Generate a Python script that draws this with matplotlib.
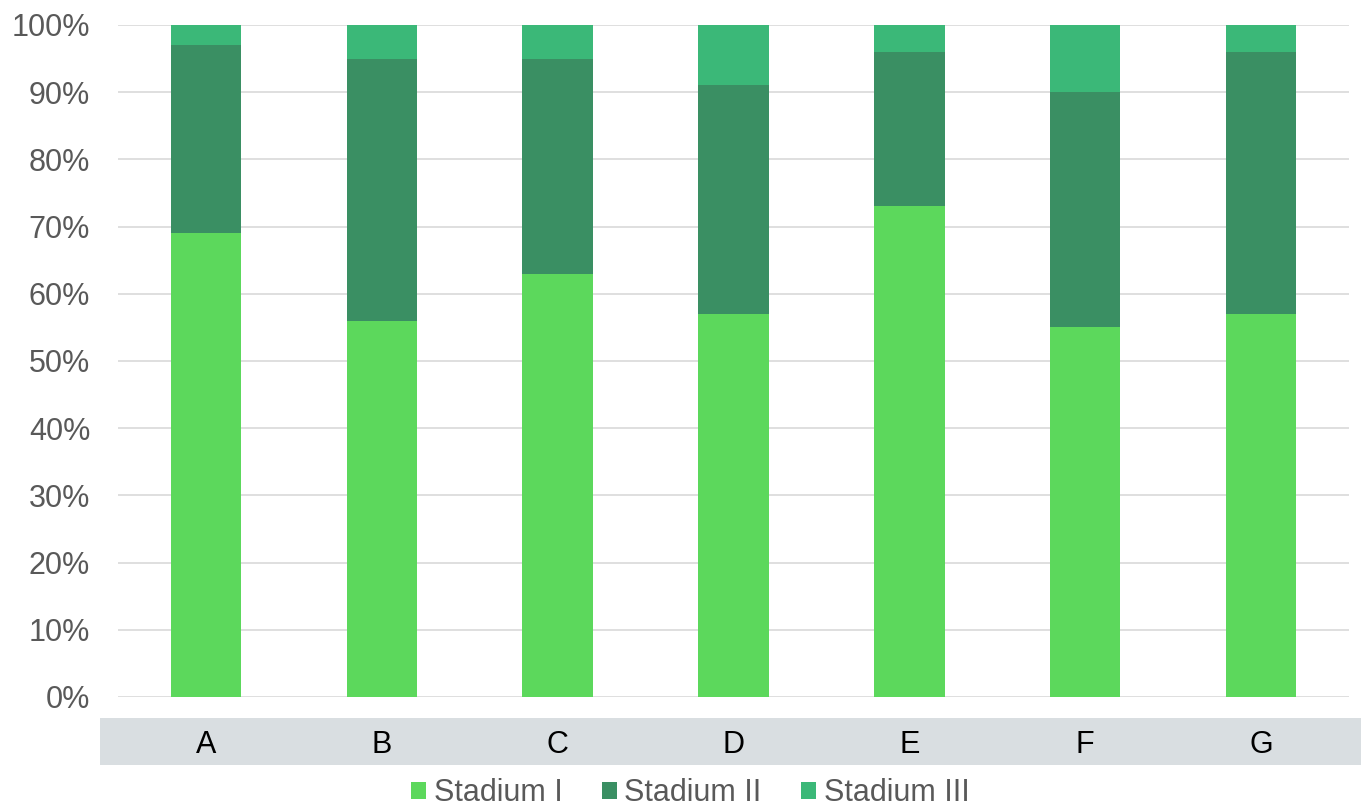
import numpy as np
import matplotlib.pyplot as plt
from matplotlib.patches import Rectangle
from matplotlib.ticker import FuncFormatter

plt.rcParams['font.family'] = ['Liberation Sans', 'DejaVu Sans']

categories = ['A', 'B', 'C', 'D', 'E', 'F', 'G']
stadium_1 = [69, 56, 63, 57, 73, 55, 57]
stadium_2 = [28, 39, 32, 34, 23, 35, 39]
stadium_3 = [3, 5, 5, 9, 4, 10, 4]
series_names = ['Stadium I', 'Stadium II', 'Stadium III']
colors = ['#5cd85c', '#3a8f63', '#3bb878']

fig = plt.figure(figsize=(13.61, 8.08), dpi=100)
ax = fig.add_axes([0.0867, 0.1374, 0.9045, 0.8317])

# grey strip behind the category labels
fig.patches.append(Rectangle((100 / 1361, 1 - 765 / 808), 1 - 100 / 1361, 47 / 808,
                             transform=fig.transFigure, facecolor='#d9dee1',
                             edgecolor='none', zorder=-5))

x = np.arange(len(categories))
bottom = np.zeros(len(categories))
for vals, name, c in zip([stadium_1, stadium_2, stadium_3], series_names, colors):
    ax.bar(x, vals, width=0.4, bottom=bottom, color=c, label=name, zorder=3)
    bottom += np.array(vals)

ax.set_xlim(-0.5, len(categories) - 0.5)
ax.set_ylim(0, 100)
ax.set_yticks(np.arange(0, 101, 10))
ax.yaxis.set_major_formatter(FuncFormatter(lambda v, p: f'{v:.0f}%'))
ax.grid(axis='y', color='#d9d9d9', linewidth=1.2, zorder=0)
ax.set_axisbelow(True)
ax.patch.set_alpha(0)
for s in ax.spines.values():
    s.set_visible(False)
ax.tick_params(axis='y', length=0, labelsize=22, labelcolor='#595959', pad=20)
ax.tick_params(axis='x', length=0, labelsize=22, labelcolor='black', pad=24)
ax.set_xticks(x)
ax.set_xticklabels(categories)

ax.legend(loc='center', bbox_to_anchor=(0.465, -0.143), ncol=3, frameon=False,
          fontsize=22, labelcolor='#595959', handlelength=0.48, handleheight=0.48,
          handletextpad=0.25, columnspacing=1.3)

fig.savefig('out.png', dpi=100)
